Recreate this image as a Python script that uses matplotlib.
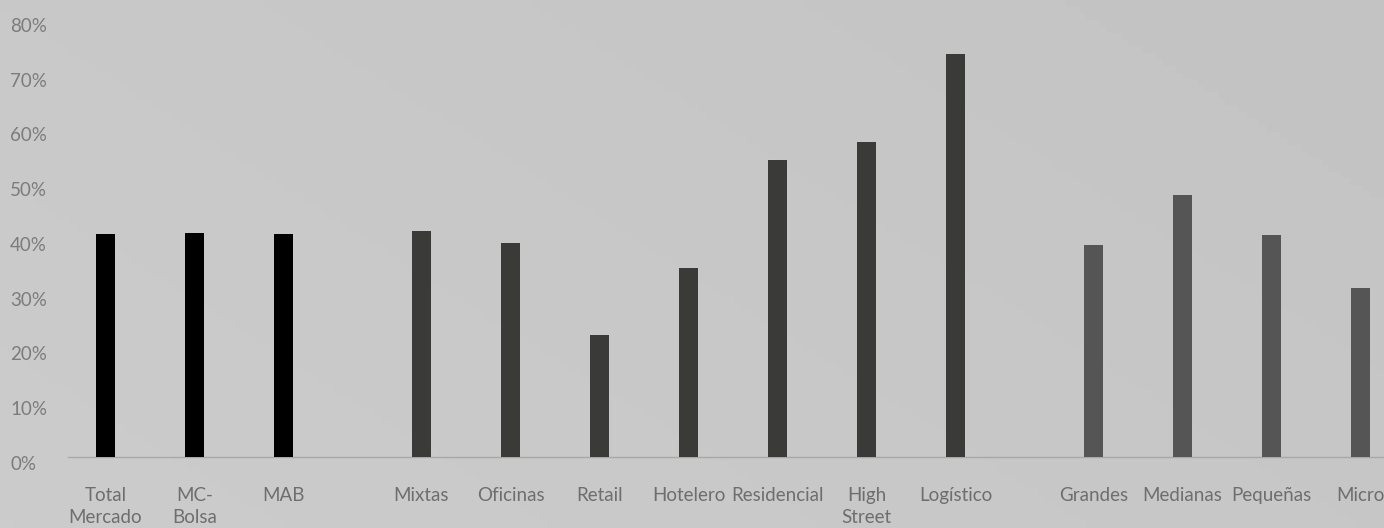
import numpy as np
import matplotlib.pyplot as plt
import matplotlib.transforms as mtransforms

# data
cats_mercado = ["Total\nMercado", "MC-\nBolsa", "MAB"]
vals_mercado = [40.7, 40.9, 40.7]
cats_tipo = ["Mixtas", "Oficinas", "Retail", "Hotelero", "Residencial",
             "High\nStreet", "Logístico"]
vals_tipo = [41.3, 39.1, 22.3, 34.5, 54.2, 57.5, 73.6]
cats_tamano = ["Grandes", "Medianas", "Pequeñas", "Micro"]
vals_tamano = [38.7, 47.9, 40.5, 30.9]
yticks = [0, 10, 20, 30, 40, 50, 60, 70, 80]

plt.rcParams["font.family"] = ["Lato", "DejaVu Sans"]

W, H = 1384, 528
fig = plt.figure(figsize=(W / 100, H / 100), dpi=100)

# grey paper-like background (simple gradient)
bg = fig.add_axes([0, 0, 1, 1])
gx = np.linspace(0, 1, 200)
gy = np.linspace(0, 1, 80)
grad = 0.785 - 0.02 * gx[None, :] + 0.012 * gy[:, None]
bg.imshow(grad, cmap="gray", vmin=0, vmax=1, aspect="auto", extent=[0, 1, 0, 1])
bg.axis("off")

ax = fig.add_axes([68 / W, (H - 457) / H, (W - 68) / W, (457 - 19) / H])
ax.patch.set_alpha(0)

# one slot per bar, with an extra gap between groups
gap = 0.55
groups = [(cats_mercado, vals_mercado, "#000000"),
          (cats_tipo, vals_tipo, "#3a3a39"),
          (cats_tamano, vals_tamano, "#555555")]
labels, pos = [], []
x0 = 0.0
for cats, vals, col in groups:
    xs = x0 + np.arange(len(cats))
    ax.bar(xs, vals, width=0.215, color=col, zorder=3)
    labels += cats
    pos += list(xs)
    x0 = xs[-1] + 1 + gap

step = 89.0
ax.set_xlim(-(105.5 - 68) / step, -(105.5 - 68) / step + (W - 68) / step)
ax.set_ylim(0, 80)

for s in ["top", "right", "left"]:
    ax.spines[s].set_visible(False)
ax.spines["bottom"].set_color("#a8a8a8")
ax.spines["bottom"].set_linewidth(1.0)

ax.set_xticks(pos)
ax.set_xticklabels(labels, fontsize=13.5, color="#6e6e6e", linespacing=1.35,
                   va="top")
ax.tick_params(axis="x", length=0, pad=21.5)

ax.set_yticks(yticks)
ax.set_yticklabels([f"{v}%" for v in yticks], fontsize=13.5, color="#7c7c7c",
                   ha="left")
ax.tick_params(axis="y", length=0, pad=58 * 0.72)
off = mtransforms.ScaledTranslation(0, -6 / 100, fig.dpi_scale_trans)
for lab in ax.get_yticklabels():
    lab.set_transform(lab.get_transform() + off)

fig.savefig("out.png", dpi=100)
